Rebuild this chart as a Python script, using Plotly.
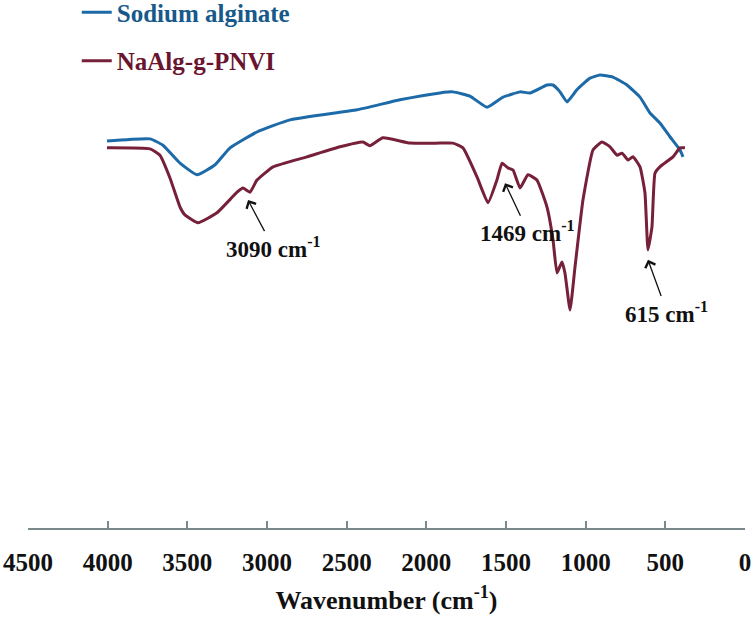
import plotly.graph_objects as go

# Sodium alginate spectrum (wavenumber cm^-1, transmittance a.u.)
alg_wn = [4004, 3734, 3653, 3546, 3439, 3326, 3232, 3063, 2856, 2435, 2165, 1914,
          1833, 1726, 1619, 1519, 1412, 1349, 1243, 1205, 1161, 1117, 1055, 973,
          910, 829, 741, 659, 596, 534, 471, 408, 389]
alg_t = [73.3, 73.7, 72.5, 69.1, 66.9, 68.8, 72.0, 75.0, 77.3, 79.2, 81.1, 82.4,
         82.6, 81.8, 79.7, 81.6, 82.6, 82.4, 83.9, 83.9, 82.6, 80.7, 83.0, 85.2,
         85.8, 85.4, 83.9, 81.6, 78.6, 76.7, 74.1, 71.6, 70.3]

# NaAlg-g-PNVI spectrum
pnvi_wn = [4004, 3734, 3672, 3609, 3546, 3515, 3433, 3314, 3188, 3151, 3107, 3063,
           2962, 2749, 2542, 2398, 2354, 2272, 2103, 1914, 1833, 1770, 1682, 1613,
           1557, 1525, 1488, 1456, 1412, 1362, 1306, 1243, 1205, 1180, 1149, 1130,
           1098, 1067, 1017, 954, 898, 847, 803, 772, 734, 703, 659, 628, 609, 584,
           565, 534, 452, 408, 377]
pnvi_t = [72.0, 71.8, 70.6, 66.3, 60.8, 59.3, 57.8, 59.7, 63.6, 64.4, 63.6, 65.9,
          68.4, 70.3, 72.2, 73.1, 72.4, 73.9, 72.9, 72.9, 72.9, 72.0, 66.5, 61.6,
          65.9, 69.1, 68.2, 67.8, 64.4, 66.9, 65.9, 60.8, 54.6, 48.3, 50.4, 48.3,
          41.3, 49.4, 62.1, 71.6, 73.1, 72.2, 70.6, 71.0, 69.7, 70.3, 68.4, 63.5,
          52.7, 57.0, 67.2, 68.4, 70.3, 72.0, 72.0]

tick_vals = [4500, 4000, 3500, 3000, 2500, 2000, 1500, 1000, 500, 0]
tick_text = ["4500", "4000", "3500", "3000", "2500", "2000", "1500", "1000", "500", "0"]

# annotations: label, arrow tip (wn, T), label centre (wn, T)
ann_labels = ["3090 cm<sup>-1</sup>", "1469 cm<sup>-1</sup>", "615 cm<sup>-1</sup>"]
ann_tip_wn = [3119, 1506, 609]
ann_tip_t = [62.1, 65.3, 50.8]
ann_txt_wn = [2962, 1362, 490]
ann_txt_t = [53.2, 56.1, 40.9]

BLUE = "#1d6aa8"
RED = "#76203a"
SERIF = "Liberation Serif"

fig = go.Figure()
fig.add_trace(go.Scatter(
    x=alg_wn, y=alg_t, mode="lines",
    line=dict(color=BLUE, width=3, shape="spline", smoothing=0.4),
    name="<span style='color:#17598a'>Sodium alginate</span>",
    legendgroup="a"))
fig.add_trace(go.Scatter(
    x=pnvi_wn, y=pnvi_t, mode="lines",
    line=dict(color=RED, width=3, shape="spline", smoothing=0.4),
    name="<span style='color:#6a1530'>NaAlg-g-PNVI</span>",
    legendgroup="b"))

for lab, tx, ty, ax, ay in zip(ann_labels, ann_tip_wn, ann_tip_t, ann_txt_wn, ann_txt_t):
    fig.add_annotation(
        x=tx, y=ty, ax=ax, ay=ay, axref="x", ayref="y", xref="x", yref="y",
        text=lab, showarrow=True, arrowhead=4, arrowsize=1.6, arrowwidth=1.3,
        arrowcolor="#111111", standoff=0,
        font=dict(family=SERIF, size=23, color="#111111", weight="bold"))

fig.update_layout(
    width=756, height=617,
    margin=dict(l=28, r=11, t=0, b=89, autoexpand=False),
    paper_bgcolor="white", plot_bgcolor="white",
    showlegend=True,
    legend=dict(x=0.068, y=1.02, xref="paper", yref="paper",
                xanchor="left", yanchor="top",
                bgcolor="rgba(0,0,0,0)", tracegroupgap=13, itemwidth=30,
                font=dict(family=SERIF, size=25, weight="bold")),
    xaxis=dict(range=[4500, 0], tickvals=tick_vals, ticktext=tick_text,
               showline=True, linecolor="#7a8a8c", linewidth=1.5,
               ticks="inside", ticklen=7, tickcolor="#7a8a8c", tickwidth=1.5,
               showgrid=False, zeroline=False, ticklabelstandoff=11,
               automargin=False,
               tickfont=dict(family=SERIF, size=25, color="#111111", weight="bold"),
               title=dict(text="Wavenumber (cm<sup>-1</sup>)", standoff=16,
                          font=dict(family=SERIF, size=26, color="#111111", weight="bold"))),
    yaxis=dict(range=[0, 100], visible=False),
)

fig.write_html("out.html", config={"displayModeBar": False},
               post_script="document.body.style.margin='0';document.body.style.padding='0';")
